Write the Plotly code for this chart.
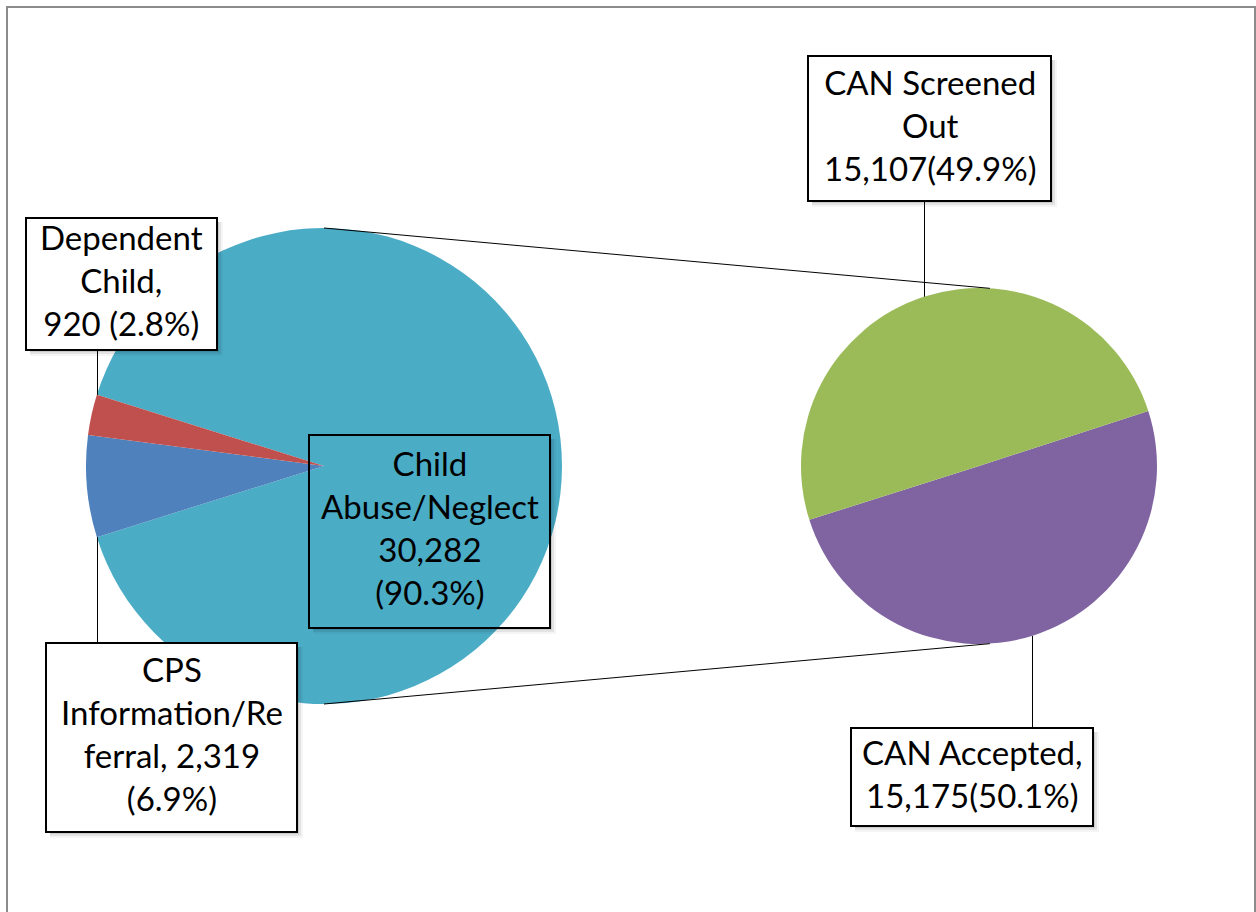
import math
import plotly.graph_objects as go

# ---- data ----
main_labels = ["Child Abuse/Neglect", "CPS Information/Referral", "Dependent Child"]
main_values = [30282, 2319, 920]
main_pct = ["90.3%", "6.9%", "2.8%"]
main_colors = ["#4BACC6", "#4F81BD", "#C0504D"]

sub_labels = ["CAN Screened Out", "CAN Accepted"]
sub_values = [15107, 15175]
sub_pct = ["49.9%", "50.1%"]
sub_colors = ["#9BBB59", "#8064A2"]

W, H = 1256, 912
FONT = "Lato"

def X(px):
    return px / W

def Y(py):
    return 1 - py / H

# geometry (screen pixels)
L_CX, L_CY, L_R = 324, 466, 238
R_CX, R_CY, R_R = 979, 466, 178

main_total = sum(main_values)
frac_main = main_values[0] / main_total
rot_main = 90 - 180 * frac_main          # first slice centred on 3 o'clock
start_main = 90 - rot_main
rot_sub = 72

fig = go.Figure()
fig.add_trace(go.Pie(
    labels=main_labels, values=main_values, sort=False, direction="clockwise",
    rotation=rot_main, textinfo="none", hoverinfo="label+value+percent",
    marker=dict(colors=main_colors, line=dict(width=0)), showlegend=False,
    domain=dict(x=[X(L_CX - L_R), X(L_CX + L_R)], y=[Y(L_CY + L_R), Y(L_CY - L_R)]),
))
fig.add_trace(go.Pie(
    labels=sub_labels[::-1], values=sub_values[::-1], sort=False, direction="counterclockwise",
    rotation=rot_sub, textinfo="none", hoverinfo="label+value+percent",
    marker=dict(colors=sub_colors[::-1], line=dict(width=0)), showlegend=False,
    domain=dict(x=[X(R_CX - R_R), X(R_CX + R_R)], y=[Y(R_CY + R_R), Y(R_CY - R_R)]),
))

def pt(cx, cy, r, ang):
    a = math.radians(ang)
    return cx + r * math.cos(a), cy - r * math.sin(a)

shapes = []
# outer border
shapes.append(dict(type="rect", xref="paper", yref="paper", x0=X(7), x1=X(1255), y0=Y(7), y1=-0.05,
                   line=dict(color="#8c8c8c", width=2), fillcolor="rgba(0,0,0,0)"))
# connector lines between pies
for ang_l, ang_r in [(90, 86.5), (-90, -86.5)]:
    x0, y0 = pt(L_CX, L_CY, L_R, ang_l)
    x1, y1 = pt(R_CX, R_CY, R_R, ang_r)
    shapes.append(dict(type="line", xref="paper", yref="paper", x0=X(x0), y0=Y(y0), x1=X(x1), y1=Y(y1),
                       line=dict(color="black", width=1)))

frac_cps = main_values[1] / main_total
frac_dep = main_values[2] / main_total
ang_cps_start = start_main - 360 * frac_main
ang_dep_end = ang_cps_start - 360 * (frac_cps + frac_dep)

def leader(cx, cy, r, ang, box_y):
    px, py = pt(cx, cy, r, ang)
    px = round(px) + 0.5
    shapes.append(dict(type="line", xref="paper", yref="paper", x0=X(px), y0=Y(py), x1=X(px), y1=Y(box_y),
                       line=dict(color="black", width=1)))

leader(L_CX, L_CY, L_R, ang_dep_end, 350)
leader(L_CX, L_CY, L_R, ang_cps_start, 643)
leader(R_CX, R_CY, R_R, 108, 201)
leader(R_CX, R_CY, R_R, -72.7, 728)

ZW = "\u200c"
boxes = [
    ("Dependent<br>Child,<br>%s (%s)" % (f"{main_values[2]:,}", main_pct[2]), 26, 218, 217, 350, True),
    ("Child<br>Abuse/Neglect<br>%s<br>(%s)" % (f"{main_values[0]:,}", main_pct[0]), 309, 435, 550, 628, False),
    ("CPS<br>Informa" + ZW + "tion/Re<br>ferral, %s<br>(%s)" % (f"{main_values[1]:,}", main_pct[1]), 46, 643, 297, 832, True),
    ("CAN Screened<br>Out<br>%s(%s)" % (f"{sub_values[0]:,}", sub_pct[0]), 808, 56, 1051, 201, True),
    ("CAN Accepted,<br>%s(%s)" % (f"{sub_values[1]:,}", sub_pct[1]), 851, 728, 1093, 826, True),
]
annotations = []
for text, x0, y0, x1, y1, filled in boxes:
    # soft shadow (right and bottom strips)
    for k, a in [(2, 0.10), (4, 0.07), (6, 0.04)]:
        shapes.append(dict(type="rect", xref="paper", yref="paper", x0=X(x0 + 4), x1=X(x1 + k), y0=Y(y1), y1=Y(y1 + k),
                           line=dict(width=0), fillcolor="rgba(0,0,0,%s)" % a))
        shapes.append(dict(type="rect", xref="paper", yref="paper", x0=X(x1), x1=X(x1 + k), y0=Y(y0 + 4), y1=Y(y1),
                           line=dict(width=0), fillcolor="rgba(0,0,0,%s)" % a))
    # border box (as shape, so text can be nudged independently)
    shapes.append(dict(type="rect", xref="paper", yref="paper", x0=X(x0), x1=X(x1), y0=Y(y0), y1=Y(y1),
                       line=dict(color="black", width=2),
                       fillcolor="white" if filled else "rgba(0,0,0,0)"))
    annotations.append(dict(
        x=X((x0 + x1) / 2), y=Y((y0 + y1) / 2), xref="paper", yref="paper",
        xanchor="center", yanchor="middle", showarrow=False, text=text, align="center",
        yshift=4, font=dict(family=FONT, size=33, color="black"),
    ))

fig.update_layout(
    width=W, height=H, margin=dict(l=0, r=0, t=0, b=0),
    paper_bgcolor="white", plot_bgcolor="white",
    shapes=shapes, annotations=annotations, showlegend=False,
)
fig.write_html("out.html", config={"displayModeBar": False},
               post_script="document.body.style.margin='0';document.body.style.overflow='hidden';")
